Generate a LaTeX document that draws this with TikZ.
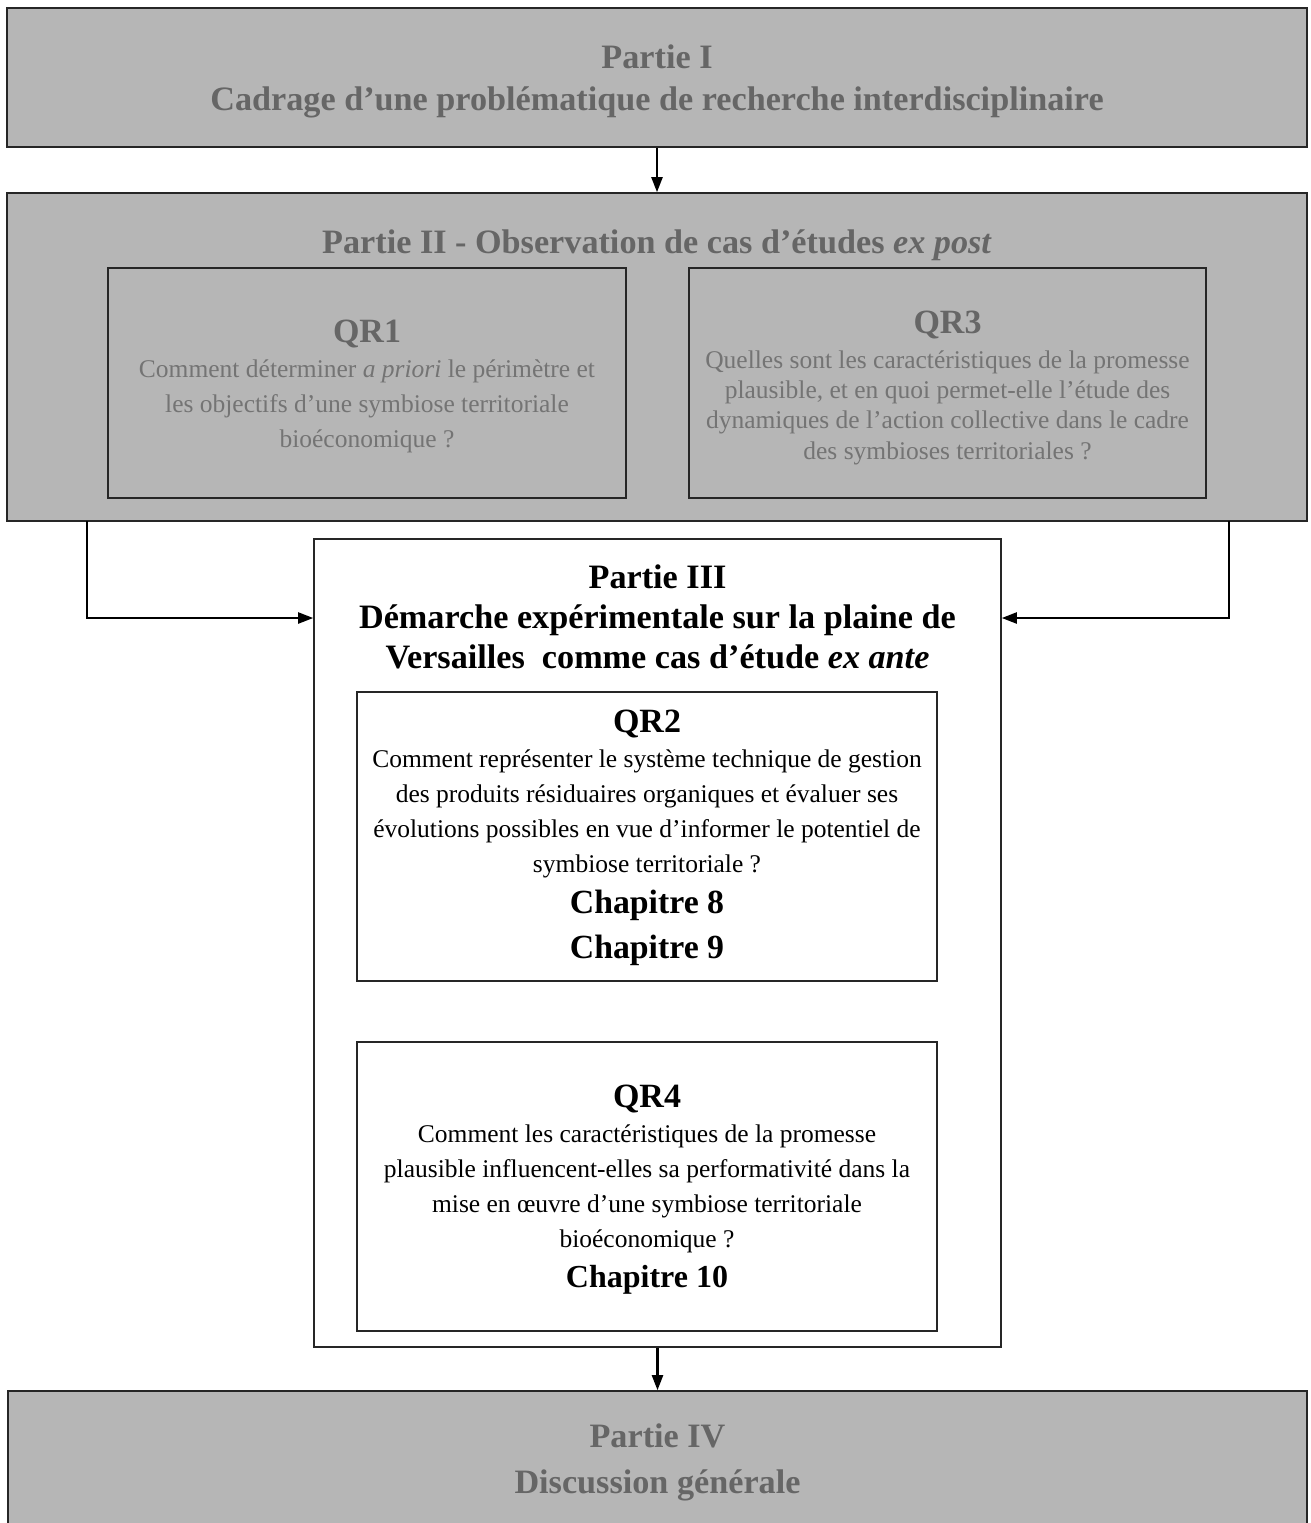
\documentclass[tikz,border=0pt]{standalone}
\usepackage{fontspec}
\setmainfont{Liberation Serif}
\usetikzlibrary{arrows.meta,positioning}
\definecolor{boxgray}{RGB}{182,182,182}
\definecolor{titlegray}{RGB}{102,102,102}
\definecolor{textgray}{RGB}{116,116,116}
\newcommand{\partiefont}{\fontsize{17.1}{21}\selectfont\bfseries}
\newcommand{\qrfont}{\fontsize{17}{20}\selectfont\bfseries}
\newcommand{\chapfont}{\fontsize{16.9}{22.5}\selectfont\bfseries}
\newcommand{\qfont}{\fontsize{12.75}{17.5}\selectfont}
\begin{document}
\begin{tikzpicture}[x=0.5pt,y=-0.5pt,>={Triangle[length=7.5pt,width=5.5pt]},
		partie/.style={draw=black!85,line width=0.8pt,fill=boxgray,inner sep=0pt},
		qrbox/.style={draw=black!85,line width=0.8pt,inner sep=0pt},
		txt/.style={align=center,anchor=base,inner sep=0pt},
		fleche/.style={->,line width=1.1pt}]
	\useasboundingbox (0,0) rectangle (1311,1523);
	% Partie I
	\node[partie,minimum width=650pt,minimum height=69.5pt] (p1) at (657,77.5) {};
	\node[txt,font=\partiefont,text=titlegray] (p1t) at (657,110) {Partie I\\Cadrage d’une problématique de recherche interdisciplinaire};
	% Partie II
	\node[partie,minimum width=650pt,minimum height=164pt] (p2) at (657,357) {};
	\node[txt,font=\partiefont,text=titlegray] (p2t) at (657,253) {Partie II - Observation de cas d’études \textit{ex post}};
	\node[qrbox,fill=boxgray,minimum width=259pt,minimum height=115pt] (qr1) at (367,383) {};
	\node[txt,font=\qrfont,text=titlegray] (qr1t) at (367,342) {QR1};
	\node[txt,font=\qfont,text=textgray] (qr1b) at (367,447) {Comment déterminer \textit{a priori} le périmètre et\\les objectifs d’une symbiose territoriale\\bioéconomique ?};
	\node[qrbox,fill=boxgray,minimum width=258.5pt,minimum height=115pt] (qr3) at (947.5,383) {};
	\node[txt,font=\qrfont,text=titlegray] (qr3t) at (947.5,333) {QR3};
	\node[txt,font=\fontsize{12.75}{15.1}\selectfont,text=textgray] (qr3b) at (947.5,459) {Quelles sont les caractéristiques de la promesse\\plausible, et en quoi permet-elle l’étude des\\dynamiques de l’action collective dans le cadre\\des symbioses territoriales ?};
	% Partie III
	\node[qrbox,minimum width=343.5pt,minimum height=404pt] (p3) at (657.5,943) {};
	\node[txt,font=\fontsize{17.1}{20}\selectfont\bfseries] (p3t) at (657.5,668) {Partie III\\Démarche expérimentale sur la plaine de\\Versailles\ \ comme cas d’étude \textit{ex ante}};
	\node[qrbox,minimum width=290pt,minimum height=144.5pt] (qr2) at (647,836.5) {};
	\node[txt,font=\qrfont] (qr2t) at (647,732) {QR2};
	\node[txt,font=\qfont] (qr2b) at (647,872) {Comment représenter le système technique de gestion\\des produits résiduaires organiques et évaluer ses\\évolutions possibles en vue d’informer le potentiel de\\symbiose territoriale ?};
	\node[txt,font=\chapfont] (qr2c) at (647,958) {Chapitre 8\\Chapitre 9};
	\node[qrbox,minimum width=290pt,minimum height=144.5pt] (qr4) at (647,1186.5) {};
	\node[txt,font=\qrfont] (qr4t) at (647,1107) {QR4};
	\node[txt,font=\qfont] (qr4b) at (647,1247) {Comment les caractéristiques de la promesse\\plausible influencent-elles sa performativité dans la\\mise en œuvre d’une symbiose territoriale\\bioéconomique ?};
	\node[txt,font=\fontsize{16}{20}\selectfont\bfseries] (qr4c) at (647,1287) {Chapitre 10};
	% Partie IV
	\node[partie,minimum width=649.5pt,minimum height=67pt] (p4) at (657.5,1458) {};
	\node[txt,font=\fontsize{17.1}{23}\selectfont\bfseries,text=titlegray] (p4t) at (657.5,1493) {Partie IV\\Discussion générale};
	% fleches
	\coordinate (kl) at (87,521);
	\coordinate (kr) at (1229,521);
	\draw[fleche] (p1) -- (p2);
	\draw[fleche] (kl) |- (p3.west |- 0,618);
	\draw[fleche] (kr) |- (p3.east |- 0,618);
	\draw[fleche] (p3) -- (p4);
\end{tikzpicture}
\end{document}
